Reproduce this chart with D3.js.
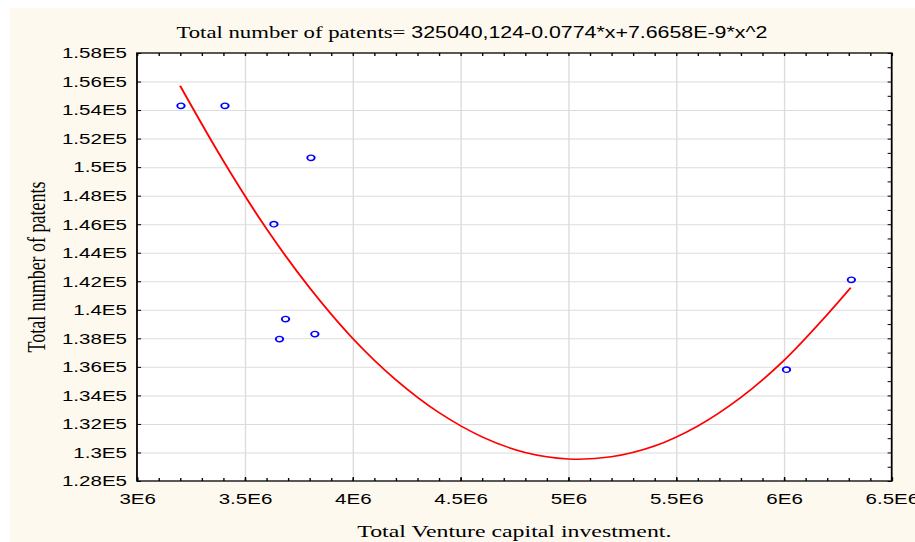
<!DOCTYPE html>
<html>
<head>
<meta charset="utf-8">
<script src="https://cdn.jsdelivr.net/npm/d3@7"></script>
<style>
  body { margin: 0; background: #ffffff; }
  svg { display: block; }
  .serif { font-family: "Liberation Serif", "Times New Roman", serif; }
  .sans { font-family: "Liberation Sans", Arial, sans-serif; }
</style>
</head>
<body>
<script>
// data
const vcInvestment = [3.204e6, 3.408e6, 3.807e6, 3.635e6, 3.689e6, 3.661e6, 3.825e6, 6.012e6, 6.313e6];
const patents      = [154300, 154300, 150650, 146000, 139350, 137950, 138300, 135800, 142100];

// fitted curve as seen in the picture
const fitX = [3.2e6, 3.4e6, 3.6e6, 3.8e6, 4.0e6, 4.2e6, 4.4e6, 4.6e6, 4.8e6, 5.0e6, 5.2e6, 5.4e6, 5.6e6, 5.8e6, 6.0e6, 6.2e6, 6.31e6];
const fitY = [155700, 150450, 145700, 141550, 138000, 135100, 132800, 131100, 130000, 129550, 129700, 130450, 131850, 133850, 136450, 139650, 141550];

const xTicks = [3e6, 3.5e6, 4e6, 4.5e6, 5e6, 5.5e6, 6e6, 6.5e6];
const xTickLabels = ["3E6", "3.5E6", "4E6", "4.5E6", "5E6", "5.5E6", "6E6", "6.5E6"];
const yTicks = [128000, 130000, 132000, 134000, 136000, 138000, 140000, 142000, 144000, 146000, 148000, 150000, 152000, 154000, 156000, 158000];
const yTickLabels = ["1.28E5", "1.3E5", "1.32E5", "1.34E5", "1.36E5", "1.38E5", "1.4E5", "1.42E5", "1.44E5", "1.46E5", "1.48E5", "1.5E5", "1.52E5", "1.54E5", "1.56E5", "1.58E5"];

const titleLeft = "Total number of patents=";
const titleRight = " 325040,124-0.0774*x+7.6658E-9*x^2";
const xLabel = "Total Venture capital investment.";
const yLabel = "Total number of patents";

// the original picture is stretched horizontally, so draw in a narrower box and stretch it
const W = 668, H = 542;
const margin = {top: 53, right: 17, bottom: 61, left: 100};
const pw = W - margin.left - margin.right;
const ph = H - margin.top - margin.bottom;

const svg = d3.select('body').append('svg')
  .attr('width', 915).attr('height', 542)
  .attr('viewBox', `0 0 ${W} ${H}`)
  .attr('preserveAspectRatio', 'none');

// cream background
svg.append('rect').attr('x', 7.3).attr('y', 8).attr('width', W).attr('height', H).attr('fill', '#fdf9ee');

const x = d3.scaleLinear().domain([3e6, 6.5e6]).range([0, pw]);
const y = d3.scaleLinear().domain([128000, 158000]).range([ph, 0]);

const g = svg.append('g').attr('transform', `translate(${margin.left},${margin.top})`);

g.append('rect').attr('width', pw).attr('height', ph).attr('fill', '#ffffff');

// grid
const gx = g.append('g').attr('transform', `translate(0,${ph})`)
  .call(d3.axisBottom(x).tickValues(xTicks.slice(1, -1)).tickSize(-ph).tickFormat(''));
const gy = g.append('g')
  .call(d3.axisLeft(y).tickValues(yTicks.slice(1, -1)).tickSize(-pw).tickFormat(''));
[gx, gy].forEach(a => {
  a.select('.domain').remove();
  a.selectAll('line').attr('stroke', '#dcdcdc').attr('stroke-width', 1);
});

// minor ticks
const xMinor = d3.range(3e6, 6.5e6 + 1, 1e5);
const yMinor = d3.range(128000, 158001, 1000);

const axes = [];
axes.push(g.append('g').attr('transform', `translate(0,${ph})`)
  .call(d3.axisBottom(x).tickValues(xMinor).tickSize(-3).tickFormat('')));
axes.push(g.append('g')
  .call(d3.axisTop(x).tickValues(xMinor).tickSize(-3).tickFormat('')));
axes.push(g.append('g').attr('transform', `translate(${pw},0)`)
  .call(d3.axisRight(y).tickValues(yMinor).tickSize(-3).tickFormat('')));

// major ticks with labels
const xAxis = g.append('g').attr('transform', `translate(0,${ph})`)
  .call(d3.axisBottom(x).tickValues(xTicks).tickSize(-4).tickPadding(12)
    .tickFormat((d, i) => xTickLabels[i]));
const yAxis = g.append('g')
  .call(d3.axisLeft(y).tickValues(yTicks).tickSize(-3).tickPadding(7.3)
    .tickFormat((d, i) => yTickLabels[i]));
axes.push(xAxis, yAxis);

axes.forEach(a => {
  a.select('.domain').remove();
  a.selectAll('line').attr('stroke', '#000').attr('stroke-width', 1);
  a.selectAll('text').attr('class', 'sans').attr('font-size', 15).attr('fill', '#000')
    .style('font-family', '"Liberation Sans", Arial, sans-serif');
});

// frame
g.append('rect').attr('width', pw).attr('height', ph)
  .attr('fill', 'none').attr('stroke', '#000').attr('stroke-width', 1.3);

// fitted curve
const fit = fitX.map((v, i) => [v, fitY[i]]);
g.append('path')
  .datum(fit)
  .attr('fill', 'none')
  .attr('stroke', '#ff0000')
  .attr('stroke-width', 1.5)
  .attr('d', d3.line().x(d => x(d[0])).y(d => y(d[1])).curve(d3.curveCatmullRom));

// points
const pts = vcInvestment.map((v, i) => [v, patents[i]]);
g.selectAll('.pt')
  .data(pts)
  .enter()
  .append('circle')
  .attr('class', 'pt')
  .attr('cx', d => x(d[0]))
  .attr('cy', d => y(d[1]))
  .attr('r', 2.7)
  .attr('fill', 'none')
  .attr('stroke', '#0000ff')
  .attr('stroke-width', 1.4);

// title
const title = svg.append('text')
  .attr('x', margin.left + pw / 2 - 31)
  .attr('y', 38)
  .attr('text-anchor', 'middle')
  .attr('fill', '#000');
title.append('tspan').attr('class', 'serif').attr('font-size', 16.6).text(titleLeft);
title.append('tspan').attr('class', 'sans').attr('font-size', 15.6).text(titleRight);

// axis titles
svg.append('text')
  .attr('class', 'serif')
  .attr('x', margin.left + pw / 2)
  .attr('y', 537)
  .attr('text-anchor', 'middle')
  .attr('font-size', 17.4)
  .attr('fill', '#000')
  .text(xLabel);

svg.append('text')
  .attr('class', 'serif')
  .attr('transform', `translate(33,${margin.top + ph / 2}) rotate(-90)`)
  .attr('text-anchor', 'middle')
  .attr('font-size', 18)
  .attr('fill', '#000')
  .text(yLabel);
</script>
</body>
</html>
